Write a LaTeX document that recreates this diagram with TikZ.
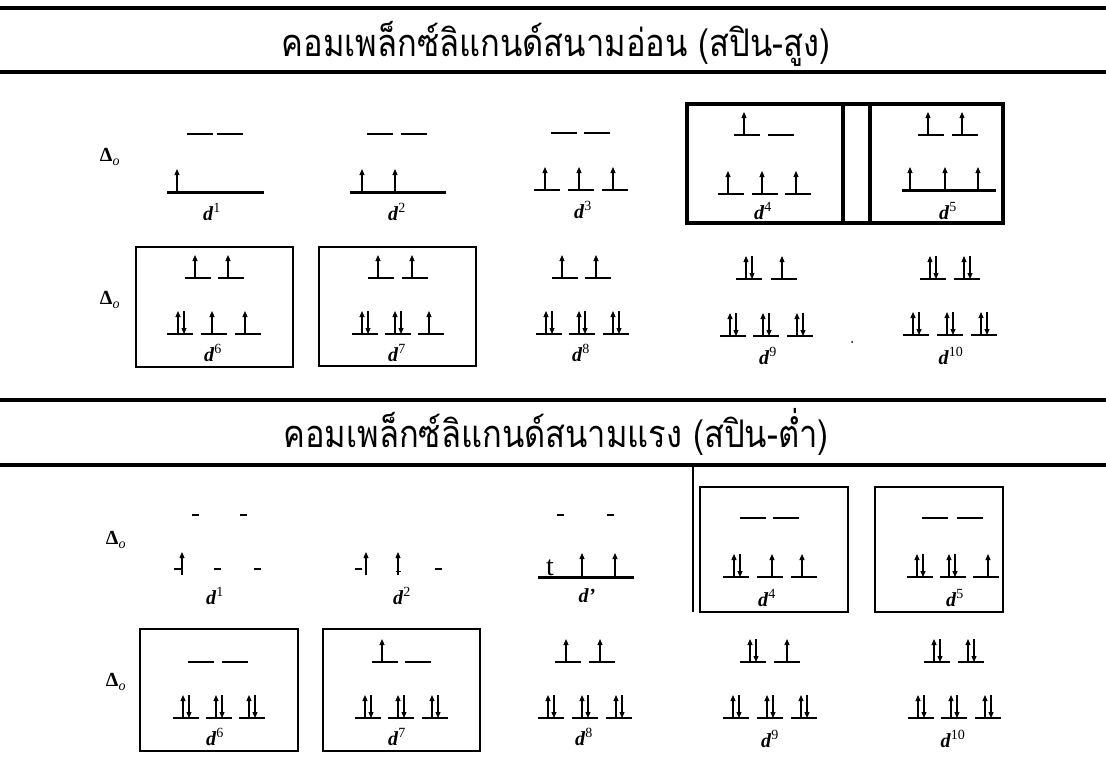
\documentclass[tikz,border=0pt]{standalone}
\usepackage{fontspec}
\setmainfont{Liberation Serif}
\newfontfamily\thaifont[Script=Thai]{Loma}
\usetikzlibrary{arrows.meta}
\tikzset{
  rule/.style={line width=4pt},
  lev/.style={line width=1.7pt},
  levthick/.style={line width=3pt},
  spin/.style={line width=1.1pt,-{Triangle[length=6pt,width=5pt]}},
  boxthick/.style={line width=3.2pt},
  boxthin/.style={line width=1.8pt},
  dlab/.style={font=\fontsize{20}{20}\selectfont,inner sep=0pt},
  ttl/.style={font=\thaifont\fontsize{38}{38}\selectfont,inner sep=0pt},
}
\newcommand\Lv[2]{\draw[lev] (#1-13,#2) -- (#1+13,#2);}
\newcommand\Ds[2]{\draw[lev] (#1-3.5,#2) -- (#1+3.5,#2);}
\newcommand\Up[2]{\draw[spin] (#1,#2) -- (#1,#2-23);}
\newcommand\Pair[2]{\draw[spin] (#1-3,#2) -- (#1-3,#2-23); \draw[spin] (#1+3,#2-23) -- (#1+3,#2);}
\newcommand\dd[1]{\textbf{\textit{d}}\textsuperscript{#1}}
\newcommand\DeltaO{\textbf{Δ}\textsubscript{\textit{o}}}
\begin{document}
\begin{tikzpicture}[x=1pt,y=-1pt]
\useasboundingbox (0,0) rectangle (1106,782);
\fill[white] (0,0) rectangle (1106,782);
% rules and titles
\draw[rule] (0,8) -- (1106,8);
\draw[rule] (0,72) -- (1106,72);
\draw[rule] (0,400) -- (1106,400);
\draw[rule] (0,465) -- (1106,465);
\node[ttl] (t1) at (556,44) {\scalebox{0.86}[1]{คอมเพล็กซ์ลิแกนด์สนามอ่อน (สปิน-สูง)}};
\node[ttl] (t2) at (556,432) {\scalebox{0.86}[1]{คอมเพล็กซ์ลิแกนด์สนามแรง (สปิน-ต่ำ)}};
% ===== Row 1: weak field d1-d5
\node[dlab] (D1) at (110,157) {\DeltaO};
% d1
\Lv{200}{134}\Lv{230}{134}
\draw[levthick] (167,192) -- (264,192);
\Up{177}{192}
\node[dlab] (w1) at (212,212) {\dd{1}};
% d2
\Lv{380}{134}\Lv{414}{134}
\draw[levthick] (350,192) -- (446,192);
\Up{362}{192}\Up{395}{192}
\node[dlab] (w2) at (397,212) {\dd{2}};
% d3
\Lv{564}{133}\Lv{597}{133}
\Lv{547}{190}\Lv{581}{190}\Lv{615}{190}
\Up{545}{190}\Up{579}{190}\Up{613}{190}
\node[dlab] (w3) at (583,210) {\dd{3}};
% d4, d5 boxes
\draw[boxthick] (687,104) rectangle (1003,223);
\draw[boxthick] (843,104) -- (843,223) (870,104) -- (870,223);
\Lv{747}{135}\Lv{781}{135}
\Up{744}{135}
\Lv{731}{194}\Lv{765}{194}\Lv{798}{194}
\Up{728}{194}\Up{762}{194}\Up{796}{194}
\node[dlab] (w4) at (763,211) {\dd{4}};
\Lv{931}{135}\Lv{965}{135}
\Up{928}{135}\Up{962}{135}
\draw[levthick] (902,190) -- (996,190);
\Up{910}{190}\Up{945}{190}\Up{978}{190}
\node[dlab] (w5) at (948,211) {\dd{5}};
% ===== Row 2: weak field d6-d10
\node[dlab] (D2) at (110,300) {\DeltaO};
\draw[boxthin] (136,247) rectangle (293,367);
\draw[boxthin] (319,247) rectangle (476,366);
% d6
\Lv{198}{278}\Lv{231}{278}\Up{195}{278}\Up{228}{278}
\Lv{180}{334}\Lv{214}{334}\Lv{248}{334}
\Pair{181}{334}\Up{212}{334}\Up{245}{334}
\node[dlab] (w6) at (213,353) {\dd{6}};
% d7
\Lv{381}{278}\Lv{415}{278}\Up{378}{278}\Up{412}{278}
\Lv{365}{334}\Lv{398}{334}\Lv{431}{334}
\Pair{365}{334}\Pair{398}{334}\Up{429}{334}
\node[dlab] (w7) at (397,353) {\dd{7}};
% d8
\Lv{565}{278}\Lv{598}{278}\Up{562}{278}\Up{596}{278}
\Lv{549}{334}\Lv{582}{334}\Lv{616}{334}
\Pair{549}{334}\Pair{582}{334}\Pair{616}{334}
\node[dlab] (w8) at (581,353) {\dd{8}};
% d9
\Lv{749}{279}\Lv{784}{279}\Pair{749}{279}\Up{782}{279}
\Lv{733}{336}\Lv{766}{336}\Lv{800}{336}
\Pair{733}{336}\Pair{766}{336}\Pair{800}{336}
\node[dlab] (w9) at (768,356) {\dd{9}};
% d10
\Lv{933}{279}\Lv{967}{279}\Pair{933}{279}\Pair{967}{279}
\Lv{916}{335}\Lv{950}{335}\Lv{984}{335}
\Pair{916}{335}\Pair{950}{335}\Pair{984}{335}
\node[dlab] (w10) at (951,356) {\dd{10}};
\fill (852,342) circle (1pt);
% ===== Row 3: strong field d1-d5
\node[dlab] (D3) at (116,540) {\DeltaO};
% d1
\Ds{195}{515}\Ds{243}{515}
\Ds{177}{569}\Ds{217}{569}\Ds{257}{569}
\draw[spin] (182,575) -- (182,552);
\node[dlab] (s1) at (215,596) {\dd{1}};
% d2
\Ds{358}{569}\Ds{438}{569}
\draw[spin] (366,575) -- (366,552);
\draw[spin] (398,575) -- (398,552);
\draw[line width=1pt] (395.5,571) -- (400.5,571);
\node[dlab] (s2) at (402,596) {\dd{2}};
% d'
\Ds{560}{515}\Ds{610}{515}
\draw[levthick] (538,577) -- (634,577);
\node[font=\fontsize{28}{28}\selectfont,inner sep=0pt,anchor=base] (tt) at (550,575) {t};
\draw[spin] (582,577) -- (582,553);
\draw[spin] (615,577) -- (615,553);
\node[dlab] (s3) at (587,596) {\textbf{\textit{d'}}};
% d4, d5
\draw[boxthin] (693,465) -- (693,612);
\draw[boxthin] (700,487) rectangle (848,612);
\Lv{753}{518}\Lv{786}{518}
\Lv{736}{577}\Lv{770}{577}\Lv{804}{577}
\Pair{737}{577}\Up{772}{577}\Up{802}{577}
\node[dlab] (s4) at (767,598) {\dd{4}};
\draw[boxthin] (875,487) rectangle (1003,612);
\Lv{935}{518}\Lv{970}{518}
\Lv{920}{577}\Lv{953}{577}\Lv{986}{577}
\Pair{920}{577}\Pair{952}{577}\Up{988}{577}
\node[dlab] (s5) at (955,598) {\dd{5}};
% ===== Row 4: strong field d6-d10
\node[dlab] (D4) at (116,682) {\DeltaO};
\draw[boxthin] (140,629) rectangle (298,751);
\draw[boxthin] (323,629) rectangle (480,751);
% d6
\Lv{201}{662}\Lv{235}{662}
\Lv{186}{718}\Lv{219}{718}\Lv{252}{718}
\Pair{186}{718}\Pair{219}{718}\Pair{252}{718}
\node[dlab] (s6) at (215,737) {\dd{6}};
% d7
\Lv{385}{662}\Lv{418}{662}\Up{382}{662}
\Lv{368}{718}\Lv{401}{718}\Lv{435}{718}
\Pair{368}{718}\Pair{401}{718}\Pair{435}{718}
\node[dlab] (s7) at (397,737) {\dd{7}};
% d8
\Lv{568}{662}\Lv{602}{662}\Up{566}{662}\Up{600}{662}
\Lv{551}{718}\Lv{585}{718}\Lv{619}{718}
\Pair{551}{718}\Pair{585}{718}\Pair{619}{718}
\node[dlab] (s8) at (584,737) {\dd{8}};
% d9
\Lv{753}{662}\Lv{787}{662}\Pair{753}{662}\Up{787}{662}
\Lv{736}{718}\Lv{770}{718}\Lv{804}{718}
\Pair{736}{718}\Pair{770}{718}\Pair{804}{718}
\node[dlab] (s9) at (770,739) {\dd{9}};
% d10
\Lv{937}{662}\Lv{971}{662}\Pair{937}{662}\Pair{971}{662}
\Lv{921}{718}\Lv{954}{718}\Lv{988}{718}
\Pair{921}{718}\Pair{954}{718}\Pair{988}{718}
\node[dlab] (s10) at (953,739) {\dd{10}};
\end{tikzpicture}
\end{document}
